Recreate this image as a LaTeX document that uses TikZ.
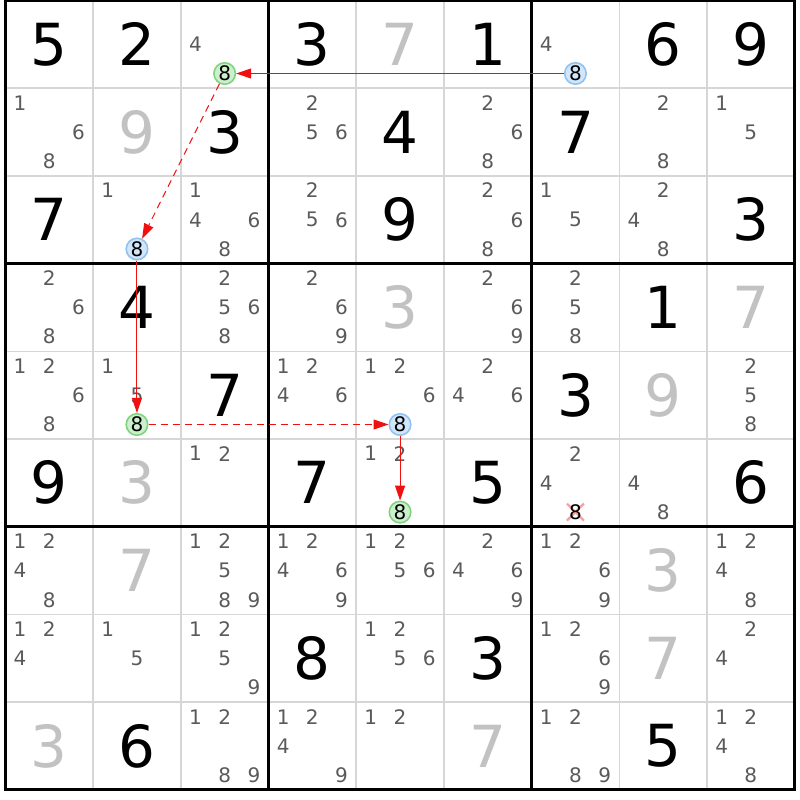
\documentclass[tikz,border=0pt]{standalone}
\usepackage{fontspec}
\setmainfont{DejaVu Sans}
\usetikzlibrary{arrows.meta}
\definecolor{candgrey}{HTML}{5A5A5A}
\definecolor{solvedgrey}{HTML}{C2C2C2}
\definecolor{thingrid}{HTML}{D6D6D6}
\definecolor{greenfill}{HTML}{CDEFCD}
\definecolor{greenedge}{HTML}{80D480}
\definecolor{bluefill}{HTML}{D2E6FA}
\definecolor{blueedge}{HTML}{92C2F0}
\definecolor{linkred}{HTML}{F01010}
\definecolor{elimpink}{HTML}{F4A0A0}
\newcommand\candpos[3]{({5.4+(#2-1)*87.7+(2*mod(#3-1,3)+1)*87.7/6},{0.5+(#1-1)*87.7+(2*int((#3-1)/3)+1)*87.7/6})}
\newcommand\cellctr[2]{({5.4+(#2-0.5)*87.7},{0.5+(#1-0.5)*87.7})}
\tikzset{
  givendigit/.style={inner sep=0pt, font=\fontsize{58}{58}\selectfont, text=black},
  solveddigit/.style={inner sep=0pt, font=\fontsize{58}{58}\selectfont, text=solvedgrey},
  canddigit/.style={inner sep=0pt, font=\fontsize{20}{20}\selectfont, text=candgrey},
  hlgreen/.style={circle, draw=greenedge, fill=greenfill, line width=1.6pt, minimum size=21.5pt, inner sep=0pt, font=\fontsize{20}{20}\selectfont, text=black},
  hlblue/.style={circle, draw=blueedge, fill=bluefill, line width=1.6pt, minimum size=21.5pt, inner sep=0pt, font=\fontsize{20}{20}\selectfont, text=black},
  elimdigit/.style={inner sep=0pt, font=\fontsize{20}{20}\selectfont, text=black},
  linkarrow/.style={draw=linkred, line width=1pt, -{Triangle[length=15pt,width=10pt]}},
  weaklink/.style={linkarrow, dash pattern=on 7pt off 5pt},
  thinline/.style={draw=thingrid, line width=1.6pt},
  thickline/.style={draw=black, line width=3pt}
}
\begin{document}
\begin{tikzpicture}[x=1pt,y=-1pt]
\useasboundingbox (0,0) rectangle (800,800);
\fill[white] (0,0) rectangle (800,800);
% thin grid lines
\foreach \i in {1,2,4,5,7,8} {
  \draw[thinline] ({5.4+\i*87.7},0.5) -- ({5.4+\i*87.7},789.8);
  \draw[thinline] (5.4,{0.5+\i*87.7}) -- (794.7,{0.5+\i*87.7});
}
% thick grid lines
\foreach \i in {0,3,6,9} {
  \draw[thickline] ({5.4+\i*87.7},-1) -- ({5.4+\i*87.7},791.3);
  \draw[thickline] (3.9,{0.5+\i*87.7}) -- (796.2,{0.5+\i*87.7});
}
% given digits
\foreach \r/\c/\d in {1/1/5,1/2/2,1/4/3,1/6/1,1/8/6,1/9/9,
  2/3/3,2/5/4,2/7/7, 3/1/7,3/5/9,3/9/3, 4/2/4,4/8/1, 5/3/7,5/7/3,
  6/1/9,6/4/7,6/6/5,6/9/6, 8/4/8,8/6/3, 9/2/6,9/8/5}
  \node[givendigit] (g\r\c) at \cellctr{\r}{\c} {\d};
% solved digits
\foreach \r/\c/\d in {1/5/7,2/2/9,4/5/3,4/9/7,5/8/9,6/2/3,7/2/7,7/8/3,8/8/7,9/1/3,9/6/7}
  \node[solveddigit] (s\r\c) at \cellctr{\r}{\c} {\d};
% candidates
\foreach \r/\c/\L in {1/3/{4},1/7/{4},
  2/1/{1,6,8},2/4/{2,5,6},2/6/{2,6,8},2/8/{2,8},2/9/{1,5},
  3/2/{1},3/3/{1,4,6,8},3/4/{2,5,6},3/6/{2,6,8},3/7/{1,5},3/8/{2,4,8},
  4/1/{2,6,8},4/3/{2,5,6,8},4/4/{2,6,9},4/6/{2,6,9},4/7/{2,5,8},
  5/1/{1,2,6,8},5/2/{1,5},5/4/{1,2,4,6},5/5/{1,2,6},5/6/{2,4,6},5/9/{2,5,8},
  6/3/{1,2},6/5/{1,2},6/7/{2,4},6/8/{4,8},
  7/1/{1,2,4,8},7/3/{1,2,5,8,9},7/4/{1,2,4,6,9},7/5/{1,2,5,6},7/6/{2,4,6,9},7/7/{1,2,6,9},7/9/{1,2,4,8},
  8/1/{1,2,4},8/2/{1,5},8/3/{1,2,5,9},8/5/{1,2,5,6},8/7/{1,2,6,9},8/9/{2,4},
  9/3/{1,2,8,9},9/4/{1,2,4,9},9/5/{1,2},9/7/{1,2,8,9},9/9/{1,2,4,8}}
  \foreach \d in \L
    \node[canddigit] (k\r\c\d) at \candpos{\r}{\c}{\d} {\d};
% eliminated candidate (r6c7, digit 8)
\coordinate (elim) at (575.45,512.08);
\draw[elimpink, line width=2.2pt] ([shift={(-8.5,-8.5)}]elim.center) -- ([shift={(8.5,8.5)}]elim.center);
\draw[elimpink, line width=2.2pt] ([shift={(-8.5,8.5)}]elim.center) -- ([shift={(8.5,-8.5)}]elim.center);
\node[elimdigit] (e678) at (elim) {8};
% highlighted candidates
\node[hlblue]  (h1) at (575.45,73.5) {8};
\node[hlgreen] (h2) at (224.65,73.5) {8};
\node[hlblue]  (h3) at (136.95,248.98) {8};
\node[hlgreen] (h4) at (136.95,424.5) {8};
\node[hlblue]  (h5) at (400.05,424.5) {8};
\node[hlgreen] (h6) at (400.05,512.08) {8};
% links
\draw[linkarrow] (h1) -- (h2);
\draw[weaklink]  (h2) -- (h3);
\draw[linkarrow] (h3) -- (h4);
\draw[weaklink]  (h4) -- (h5);
\draw[linkarrow] (h5) -- (h6);
\end{tikzpicture}
\end{document}
